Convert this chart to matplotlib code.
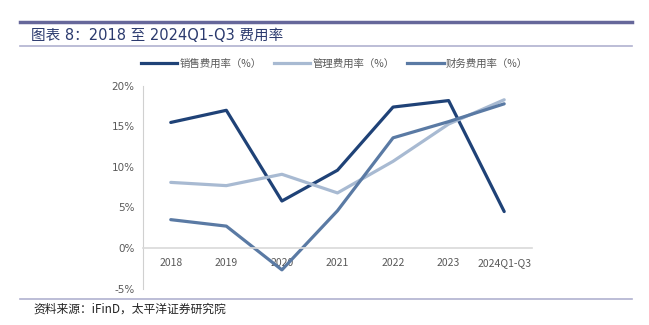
import matplotlib
matplotlib.use("Agg")
import matplotlib.pyplot as plt
from matplotlib.lines import Line2D

plt.rcParams['font.family'] = ['Noto Sans CJK SC', 'DejaVu Sans']

# ==========================================================
# DATA
# ==========================================================
years = ['2018', '2019', '2020', '2021', '2022', '2023', '2024Q1-Q3']
sales_rate = [15.5, 17.0, 5.8, 9.6, 17.4, 18.2, 4.5]
admin_rate = [8.1, 7.7, 9.1, 6.8, 10.7, 15.3, 18.3]
fin_rate = [3.5, 2.7, -2.7, 4.6, 13.6, 15.6, 17.8]
series_names = ['销售费用率（%）', '管理费用率（%）', '财务费用率（%）']
y_ticks = [-5, 0, 5, 10, 15, 20]

colors = ['#1f4277', '#a8bad2', '#5a7aa4']

# ==========================================================
# FIGURE
# ==========================================================
fig = plt.figure(figsize=(6.49, 3.25), dpi=100)
ax = fig.add_axes([0.2203, 0.1123, 0.5994, 0.6231])

x = range(len(years))
for vals, c in zip([sales_rate, admin_rate, fin_rate], colors):
    ax.plot(x, vals, color=c, linewidth=2.3, solid_capstyle='round')

ax.set_xlim(-0.5, len(years) - 0.5)
ax.set_ylim(-5, 20)
ax.set_yticks(y_ticks)
ax.set_yticklabels([f'{t}%' for t in y_ticks], family='DejaVu Sans')
ax.set_xticks(list(x))
ax.set_xticklabels(years, family='DejaVu Sans')

for s in ['top', 'right']:
    ax.spines[s].set_visible(False)
ax.spines['left'].set_color('#d0d0d0')
ax.spines['bottom'].set_position(('data', 0))
ax.spines['bottom'].set_color('#d9d9d9')
ax.spines['bottom'].set_linewidth(1.2)
ax.tick_params(axis='both', length=0, labelsize=7.5, colors='#595959')
ax.tick_params(axis='y', pad=6)
ax.tick_params(axis='x', pad=7)

# legend
handles = [Line2D([0], [0], color=c, linewidth=2.3) for c in colors]
fig.legend(handles, series_names, loc='center', bbox_to_anchor=(0.515, 0.805),
           ncol=3, frameon=False, fontsize=7.5, handlelength=3.5,
           handletextpad=0.2, columnspacing=1.2, labelcolor='#595959')

# ==========================================================
# HEADER / FOOTER
# ==========================================================
fig.add_artist(Line2D([20/649, 632/649], [1 - 22/325] * 2, color='#66679a', linewidth=2.5))
fig.add_artist(Line2D([20/649, 632/649], [1 - 45.5/325] * 2, color='#b0b1d0', linewidth=1.2))
fig.add_artist(Line2D([20/649, 632/649], [1 - 299/325] * 2, color='#b0b1d0', linewidth=1.2))

fig.text(31/649, 1 - 35.5/325, '图表 8：2018 至 2024Q1-Q3 费用率', fontsize=10.5,
         color='#2b3a6e', va='center', ha='left',
         family=['DejaVu Sans', 'Noto Sans CJK SC'])
fig.text(33/649, 1 - 309/325, '资料来源：iFinD，太平洋证券研究院', fontsize=8.5,
         color='#222222', va='center', ha='left', style='italic')

fig.savefig('out.png', dpi=100)
